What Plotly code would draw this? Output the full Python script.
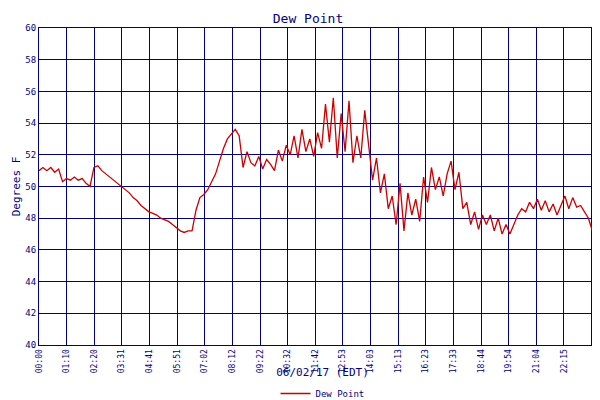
import plotly.graph_objects as go

# dew point readings, every 10 minutes from 00:00 to 24:00 (hours on x)
hours = [i / 6 for i in range(145)]
dew_point = [
    51.0, 51.2, 51.0, 51.2, 50.9, 51.1,   # 00
    50.3, 50.5, 50.4, 50.6, 50.4, 50.5,   # 01
    50.2, 50.0, 51.2, 51.3, 51.0, 50.8,   # 02
    50.6, 50.4, 50.2, 50.0, 49.8, 49.6,   # 03
    49.3, 49.1, 48.8, 48.6, 48.4, 48.3,   # 04
    48.2, 48.0, 47.9, 47.8, 47.6, 47.4,   # 05
    47.2, 47.1, 47.2, 47.2, 48.5, 49.3,   # 06
    49.5, 49.8, 50.3, 50.8, 51.6, 52.4,   # 07
    53.0, 53.3, 53.6, 53.2, 51.2, 52.2,   # 08
    51.5, 51.3, 51.9, 51.1, 51.7, 51.4,   # 09
    51.0, 52.3, 51.6, 52.6, 52.0, 53.2,   # 10
    51.8, 53.6, 52.2, 53.0, 51.9, 53.4,   # 11
    52.4, 55.2, 52.8, 55.6, 51.8, 54.6,   # 12
    52.2, 55.4, 51.5, 53.2, 51.8, 54.8,   # 13
    52.6, 50.4, 51.8, 49.6, 50.8, 48.6,   # 14
    49.4, 47.6, 50.2, 47.2, 49.6, 48.2,   # 15
    49.2, 47.8, 50.6, 49.0, 51.2, 49.8,   # 16
    50.6, 49.4, 50.8, 51.6, 49.8, 50.9,   # 17
    48.6, 49.0, 47.6, 48.4, 47.3, 48.2,   # 18
    47.6, 48.2, 47.2, 48.0, 47.0, 47.6,   # 19
    47.0, 47.6, 48.2, 48.6, 48.4, 49.0,   # 20
    48.6, 49.2, 48.5, 49.1, 48.4, 48.9,   # 21
    48.2, 48.8, 49.4, 48.6, 49.3, 48.7,   # 22
    48.8, 48.4, 48.0, 47.2, 46.6, 46.5,   # 23
    48.0,
]

tick_vals = [i * 70.4 / 60 for i in range(21)] + [24.06]
tick_text = ["00:00", "01:10", "02:20", "03:31", "04:41", "05:51", "07:02",
             "08:12", "09:22", "10:32", "11:42", "12:53", "14:03", "15:13",
             "16:23", "17:33", "18:44", "19:54", "21:04", "22:15", "", "00:05"]

navy = "#000080"
fnt = dict(family="DejaVu Sans Mono", size=10, color=navy)

fig = go.Figure(go.Scatter(x=hours, y=dew_point, mode="lines", name="Dew Point",
                           line=dict(color="#cc0000", width=1.3)))
fig.update_layout(
    width=600, height=400, margin=dict(l=31, r=2, t=20, b=63, autoexpand=False),
    paper_bgcolor="white", plot_bgcolor="white", font=fnt,
    title=dict(text="Dew Point", x=0.5, y=0.985, font=dict(size=13, color=navy)),
    showlegend=True,
    legend=dict(orientation="h", x=0.5, xanchor="center", yref="container", y=0.0,
                yanchor="bottom", font=dict(size=9)),
    xaxis=dict(range=[0, 24.08], tickvals=tick_vals, ticktext=tick_text, tickangle=-90,
               automargin=False, showgrid=True, gridcolor=navy, gridwidth=1, linecolor=navy,
               mirror=True, tickfont=dict(size=8),
               title=dict(text="06/02/17 (EDT)", font=dict(size=11), standoff=4)),
    yaxis=dict(range=[40, 60], dtick=2, automargin=False, showgrid=True, gridcolor=navy,
               linecolor=navy, mirror=True, tickfont=dict(size=9),
               title=dict(text="Degrees F", font=dict(size=11), standoff=2)),
)
fig.write_html("out.html")
